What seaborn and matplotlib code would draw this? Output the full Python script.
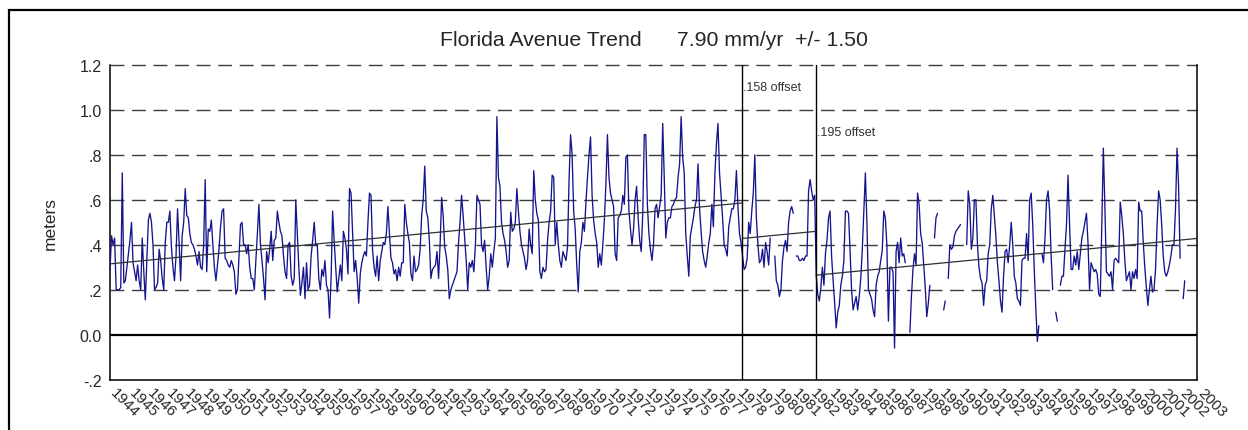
import numpy as np
import pandas as pd
import matplotlib
matplotlib.use("Agg")
import matplotlib.pyplot as plt
import seaborn as sns
from matplotlib.patches import Rectangle
from matplotlib.transforms import ScaledTranslation

nan = np.nan

# monthly water level (m), Jan 1944 onward, one row per year
lvl_1944_53 = [
    0.29, 0.44, 0.40, 0.43, 0.20, 0.20, 0.20, 0.21, 0.72, 0.23, 0.24, 0.30,
    0.36, 0.42, 0.50, 0.32, 0.28, 0.24, 0.31, 0.24, 0.20, 0.43, 0.28, 0.155,
    0.33, 0.51, 0.54, 0.50, 0.40, 0.20, 0.21, 0.23, 0.38, 0.33, 0.25, 0.20,
    0.41, 0.50, 0.50, 0.55, 0.39, 0.30, 0.24, 0.35, 0.56, 0.41, 0.24, 0.44,
    0.50, 0.65, 0.53, 0.52, 0.45, 0.41, 0.40, 0.38, 0.35, 0.31, 0.37, 0.30,
    0.29, 0.40, 0.69, 0.28, 0.47, 0.46, 0.51, 0.40, 0.30, 0.24, 0.31, 0.38,
    0.48, 0.55, 0.56, 0.34, 0.33, 0.31, 0.30, 0.33, 0.31, 0.28, 0.18, 0.20,
    0.35, 0.49, 0.50, 0.40, 0.40, 0.36, 0.40, 0.30, 0.25, 0.25, 0.20, 0.33,
    0.45, 0.58, 0.40, 0.33, 0.25, 0.155, 0.37, 0.32, 0.38, 0.46, 0.33, 0.42,
    0.43, 0.55, 0.50, 0.46, 0.44, 0.35, 0.28, 0.25, 0.40, 0.41, 0.26, 0.22,
]
lvl_1954_63 = [
    0.25, 0.60, 0.45, 0.30, 0.175, 0.23, 0.30, 0.16, 0.32, 0.20, 0.22, 0.35,
    0.42, 0.50, 0.40, 0.40, 0.25, 0.20, 0.29, 0.26, 0.33, 0.22, 0.20, 0.074,
    0.25, 0.55, 0.42, 0.30, 0.19, 0.25, 0.31, 0.24, 0.46, 0.43, 0.38, 0.27,
    0.65, 0.63, 0.45, 0.28, 0.33, 0.25, 0.14, 0.27, 0.32, 0.35, 0.37, 0.35,
    0.50, 0.63, 0.62, 0.38, 0.30, 0.26, 0.35, 0.24, 0.33, 0.37, 0.41, 0.40,
    0.45, 0.57, 0.45, 0.34, 0.32, 0.27, 0.29, 0.24, 0.30, 0.26, 0.32, 0.32,
    0.58, 0.50, 0.45, 0.41, 0.27, 0.24, 0.35, 0.28, 0.29, 0.31, 0.38, 0.53,
    0.60, 0.75, 0.55, 0.52, 0.42, 0.25, 0.29, 0.30, 0.31, 0.37, 0.25, 0.40,
    0.61, 0.53, 0.39, 0.35, 0.29, 0.16, 0.20, 0.22, 0.24, 0.26, 0.28, 0.41,
    0.50, 0.62, 0.53, 0.43, 0.33, 0.20, 0.32, 0.30, 0.33, 0.28, 0.40, 0.62,
]
lvl_1964_73 = [
    0.60, 0.58, 0.40, 0.37, 0.42, 0.30, 0.20, 0.26, 0.36, 0.30, 0.37, 0.43,
    0.97, 0.70, 0.66, 0.50, 0.45, 0.42, 0.37, 0.30, 0.33, 0.545, 0.46, 0.47,
    0.50, 0.65, 0.55, 0.46, 0.40, 0.37, 0.34, 0.29, 0.33, 0.47, 0.40, 0.36,
    0.73, 0.60, 0.54, 0.51, 0.28, 0.25, 0.30, 0.28, 0.29, 0.42, 0.50, 0.55,
    0.71, 0.70, 0.40, 0.50, 0.40, 0.33, 0.30, 0.37, 0.35, 0.33, 0.39, 0.69,
    0.89, 0.80, 0.55, 0.47, 0.31, 0.19, 0.37, 0.41, 0.50, 0.46, 0.59, 0.70,
    0.80, 0.88, 0.62, 0.51, 0.45, 0.41, 0.30, 0.36, 0.31, 0.40, 0.51, 0.67,
    0.89, 0.70, 0.63, 0.60, 0.57, 0.36, 0.33, 0.52, 0.53, 0.55, 0.62, 0.58,
    0.79, 0.80, 0.55, 0.47, 0.40, 0.47, 0.60, 0.66, 0.52, 0.42, 0.37, 0.54,
    0.89, 0.89, 0.58, 0.45, 0.38, 0.33, 0.40, 0.56, 0.58, 0.52, 0.57, 0.62,
]
lvl_1974_83 = [
    0.94, 0.70, 0.43, 0.50, 0.52, 0.52, 0.57, 0.58, 0.60, 0.61, 0.70, 0.76,
    0.97, 0.79, 0.72, 0.45, 0.35, 0.26, 0.44, 0.48, 0.52, 0.57, 0.60, 0.76,
    0.56, 0.46, 0.37, 0.33, 0.30, 0.35, 0.41, 0.45, 0.58, 0.48, 0.72, 0.85,
    0.94, 0.72, 0.62, 0.52, 0.40, 0.38, 0.35, 0.48, 0.52, 0.56, 0.56, 0.60,
    0.73, 0.57, 0.45, 0.41, 0.35, 0.29, 0.30, 0.34, 0.50, 0.45, 0.55, 0.63,
    0.80, 0.52, 0.40, 0.32, 0.33, 0.38, 0.30, 0.41, 0.37, 0.31, 0.43, nan,
    nan, 0.35, 0.24, 0.22, 0.17, 0.20, 0.33, 0.39, 0.42, 0.37, 0.50, 0.55,
    0.57, 0.54, nan, 0.35, 0.35, 0.33, 0.33, 0.34, 0.33, 0.35, 0.35, 0.64,
    0.69, 0.64, 0.60, 0.62, 0.26, 0.18, 0.15, 0.21, 0.30, 0.22, 0.36, 0.42,
    0.52, 0.55, 0.35, 0.24, 0.14, 0.03, 0.10, 0.13, 0.22, 0.26, 0.33, 0.55,
]
lvl_1984_93 = [
    0.55, 0.54, 0.38, 0.20, 0.11, 0.14, 0.17, 0.11, 0.17, 0.25, 0.38, 0.55,
    0.72, 0.50, 0.20, 0.18, 0.16, 0.11, 0.08, 0.22, 0.26, 0.28, 0.33, 0.375,
    0.55, 0.52, 0.40, 0.06, 0.30, 0.30, 0.28, -0.06, 0.37, 0.41, 0.32, 0.43,
    0.35, 0.36, 0.32, nan, nan, 0.01, 0.17, 0.29, 0.36, 0.31, 0.63, 0.58,
    0.45, 0.41, 0.31, 0.21, 0.08, 0.14, 0.22, nan, nan, 0.43, 0.52, 0.54,
    nan, nan, nan, 0.11, 0.15, nan, 0.25, 0.40, 0.38, 0.39, 0.44, 0.46,
    0.47, 0.48, 0.49, nan, nan, nan, 0.40, 0.64, 0.58, 0.38, 0.43, 0.60,
    0.60, 0.40, 0.30, 0.25, 0.23, 0.13, 0.22, 0.24, 0.36, 0.40, 0.56, 0.62,
    0.53, 0.44, 0.32, 0.24, 0.15, 0.10, 0.26, 0.37, 0.38, 0.32, 0.40, 0.50,
    0.40, 0.26, 0.23, 0.16, 0.15, 0.13, 0.33, 0.34, 0.34, 0.45, 0.33, 0.60,
]
lvl_1994_02 = [
    0.63, 0.49, 0.29, 0.12, -0.03, 0.04, nan, 0.36, 0.32, 0.43, 0.60, 0.64,
    0.55, 0.35, 0.20, nan, 0.10, 0.06, nan, 0.22, 0.26, 0.26, 0.38, 0.49,
    0.71, 0.49, 0.29, 0.29, 0.35, 0.31, 0.37, 0.29, 0.36, 0.43, 0.46, 0.50,
    0.54, 0.41, 0.20, 0.32, 0.30, 0.28, 0.29, 0.27, 0.18, 0.17, 0.49, 0.83,
    0.57, 0.28, 0.27, 0.26, 0.28, 0.20, 0.33, 0.34, 0.33, 0.32, 0.59, 0.53,
    0.45, 0.33, 0.24, 0.26, 0.28, 0.20, 0.28, 0.25, 0.29, 0.25, 0.59, 0.55,
    0.55, 0.41, 0.30, 0.21, 0.13, 0.20, 0.26, 0.19, 0.20, 0.29, 0.49, 0.64,
    0.60, 0.49, 0.35, 0.28, 0.26, 0.28, 0.31, 0.35, 0.40, 0.40, 0.56, 0.83,
    0.66, 0.34, nan, 0.16, 0.24,
]

# trend: 7.90 mm/yr with datum offsets at the two breaks
slope_mm = 7.90
trend_start = 0.315
breaks = [1978.33, 1982.33]
offsets = [0.158, 0.195]
offset_labels = [".158 offset", ".195 offset"]

years = list(range(1944, 2004))
ytick_vals = [-0.2, 0.0, 0.2, 0.4, 0.6, 0.8, 1.0, 1.2]
ytick_labels = ["-.2", "0.0", ".2", ".4", ".6", ".8", "1.0", "1.2"]

levels = np.array(lvl_1944_53 + lvl_1954_63 + lvl_1964_73 + lvl_1974_83
                  + lvl_1984_93 + lvl_1994_02, dtype=float)
df = pd.DataFrame({"year": 1944 + np.arange(len(levels)) / 12.0, "level": levels})
df["seg"] = df["level"].isna().cumsum()
df = df.dropna()

sns.set_style("white")
plt.rcParams["font.family"] = ["Liberation Sans", "DejaVu Sans"]

W, H = 1248, 431
fig = plt.figure(figsize=(W / 100, H / 100), dpi=100)
ax = fig.add_axes([110 / W, 1 - 380.6 / H, 1087 / W, (380.6 - 66) / H])

# dashed grid
for v in ytick_vals[2:]:
    ax.axhline(v, color="#3c3c3c", lw=1.0, dashes=(10, 5.5), zorder=1, clip_on=False)
ax.axhline(0, color="black", lw=1.6, zorder=2)

sns.lineplot(data=df, x="year", y="level", units="seg", estimator=None, sort=False,
             color="#14148c", lw=0.95, ax=ax, legend=False, zorder=3)

# piecewise trend
edges = [years[0]] + breaks + [years[-1]]
cum_off = np.cumsum([0.0] + offsets)
for (a, b), off in zip(zip(edges[:-1], edges[1:]), cum_off):
    xs = np.array([a, b])
    ax.plot(xs, trend_start + slope_mm / 1000 * (xs - 1944) - off,
            color="#303030", lw=0.9, zorder=4)

for b, lab, yv in zip(breaks, offset_labels, [1.10, 0.90]):
    ax.axvline(b, color="black", lw=1.0, zorder=4)
    ax.text(b + 0.02, yv, lab, fontsize=9, color="#333333", va="center", ha="left")

ax.set_xlim(years[0], years[-1])
ax.set_ylim(-0.2, 1.2)
ax.set_xticks(years)
ax.set_xticklabels([str(y) for y in years], rotation=-45, ha="left", va="top",
                   rotation_mode="anchor", fontsize=11)
ax.set_yticks(ytick_vals)
ax.set_yticklabels(ytick_labels, fontsize=11.5)
ax.tick_params(axis="both", direction="out", length=3, width=1, color="black", pad=3)
ax.tick_params(axis="x", pad=1)
shift = ScaledTranslation(0.08, 0.0, fig.dpi_scale_trans)
for lab in ax.get_xticklabels():
    lab.set_transform(lab.get_transform() + shift)

ax.set_xlabel("")
ax.set_ylabel("meters", fontsize=12.5)
ax.yaxis.set_label_coords((50 - 110) / 1087, 0.5)
ax.yaxis.label.set_va("center")

ax.spines["top"].set_visible(False)
for s in ["left", "right", "bottom"]:
    ax.spines[s].set_color("black")
    ax.spines[s].set_linewidth(1.1)

fig.text(653.5 / W, 1 - 40 / H, "Florida Avenue Trend      7.90 mm/yr  +/- 1.50",
         ha="center", va="center", fontsize=15.3)

fig.add_artist(Rectangle((9 / W, -0.1), 1.2, 1 - 11 / H + 0.1, transform=fig.transFigure,
                         fill=False, lw=1.6, ec="black"))

fig.savefig("out.png", dpi=100)
